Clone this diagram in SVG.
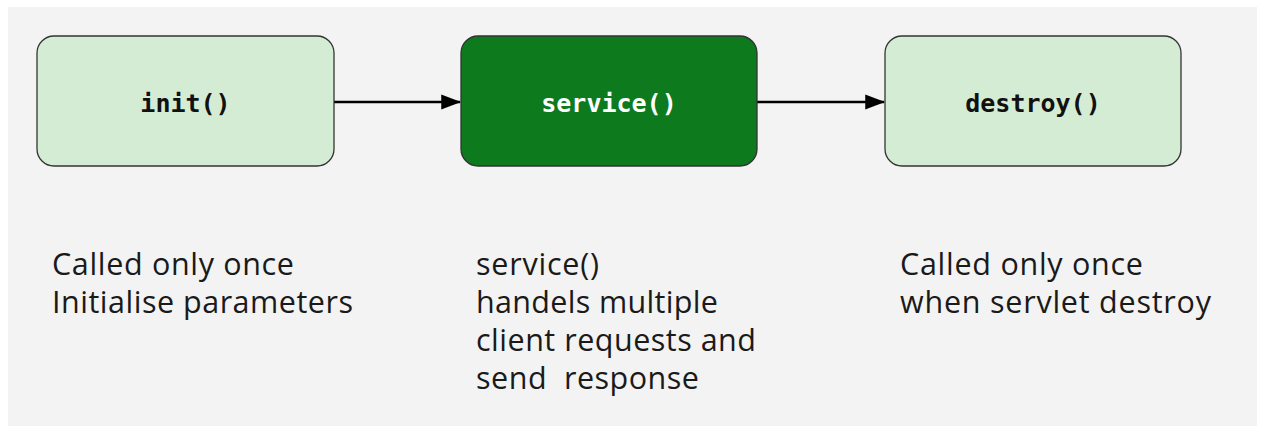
<svg xmlns="http://www.w3.org/2000/svg" width="1262" height="426" viewBox="0 0 1262 426">
<style>
.box{stroke:#333;stroke-width:1.3}
.light{fill:#d5ecd4}
.dark{fill:#0c7a1d}
.lbl{font-family:"DejaVu Sans Mono",monospace;font-weight:bold;font-size:25px;text-anchor:middle}
.desc{font-family:"Open Sans","Noto Sans",sans-serif;font-size:30.5px;fill:#1a1a1a}
.conn{stroke:#000;stroke-width:2.5;fill:none}
</style>
<defs>
<marker id="ah" markerWidth="8" markerHeight="8" refX="7.5" refY="3" orient="auto" markerUnits="strokeWidth" viewBox="0 0 8 6">
<path d="M0,0 L8,3 L0,6 z" fill="#000"/>
</marker>
</defs>
<rect x="0" y="0" width="1262" height="426" fill="#fff"/>
<rect x="8" y="7" width="1249" height="419" fill="#f3f3f3"/>
<g id="connectors">
<line class="conn" x1="334" y1="102" x2="460" y2="102" marker-end="url(#ah)"/>
<line class="conn" x1="757" y1="102" x2="884" y2="102" marker-end="url(#ah)"/>
</g>
<g id="init">
<rect class="box light" x="37" y="36" width="297" height="130" rx="17"/>
<text class="lbl" x="185.5" y="112" fill="#111">init()</text>
</g>
<g id="service">
<rect class="box dark" x="461" y="36" width="296" height="130" rx="17"/>
<text class="lbl" x="609" y="112" fill="#fff">service()</text>
</g>
<g id="destroy">
<rect class="box light" x="885" y="36" width="296" height="130" rx="17"/>
<text class="lbl" x="1033" y="112" fill="#111">destroy()</text>
</g>
<g id="init-desc">
<text class="desc" x="52" y="275" textLength="242" lengthAdjust="spacing">Called only once</text>
<text class="desc" x="52" y="313" textLength="301" lengthAdjust="spacing">Initialise parameters</text>
</g>
<g id="service-desc">
<text class="desc" x="476" y="275" textLength="123" lengthAdjust="spacing">service()</text>
<text class="desc" x="476" y="313" textLength="242" lengthAdjust="spacing">handels multiple</text>
<text class="desc" x="476" y="351" textLength="280" lengthAdjust="spacing">client requests and</text>
<text class="desc" x="476" y="389" textLength="223" lengthAdjust="spacing" xml:space="preserve">send  response</text>
</g>
<g id="destroy-desc">
<text class="desc" x="900" y="275" textLength="243" lengthAdjust="spacing">Called only once</text>
<text class="desc" x="900" y="313" textLength="311" lengthAdjust="spacing">when servlet destroy</text>
</g>
</svg>
